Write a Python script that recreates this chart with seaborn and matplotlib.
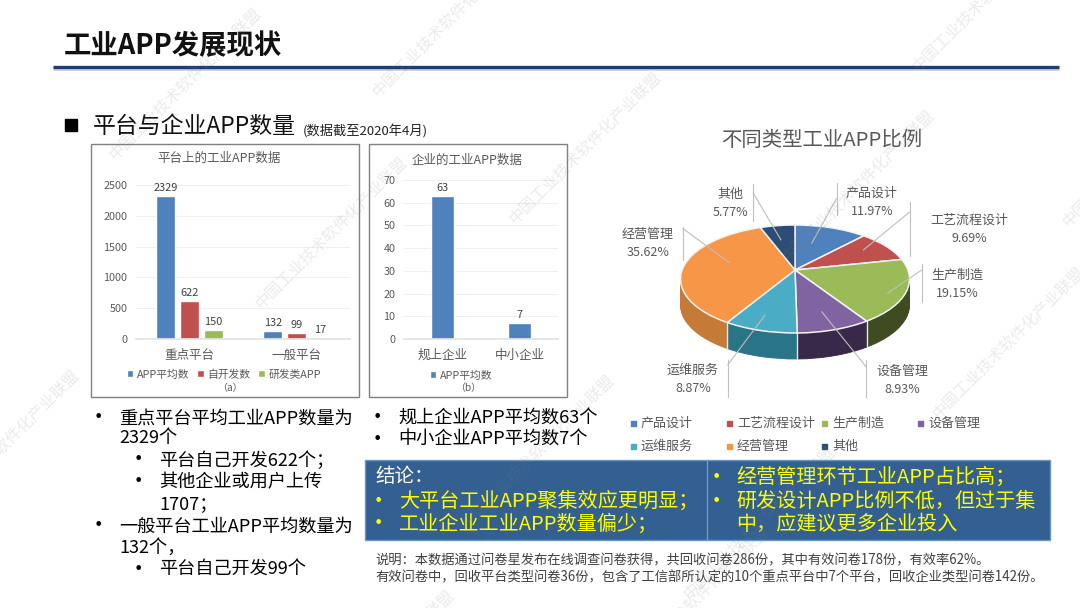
import numpy as np
import pandas as pd
import matplotlib
matplotlib.use("Agg")
import matplotlib.pyplot as plt
from matplotlib.transforms import Transform
from matplotlib.patches import Rectangle
import seaborn as sns

# ---- data ----
platform_cats = ["重点平台", "一般平台"]
platform_series = ["APP平均数", "自开发数", "研发类APP"]
platform_avg = [2329, 132]
platform_own = [622, 99]
platform_rd = [150, 17]
enterprise_cats = ["规上企业", "中小企业"]
enterprise_avg = [63, 7]
pie_labels = ["产品设计", "工艺流程设计", "生产制造", "设备管理", "运维服务", "经营管理", "其他"]
pie_values = [11.97, 9.69, 19.15, 8.93, 8.87, 35.62, 5.77]
pie_colors = ["#4F81BD", "#C0504D", "#9BBB59", "#8064A2", "#4BACC6", "#F79646", "#2C4D75"]
pie_side = ["#3B618E", "#8F3C39", "#3F4B20", "#38284A", "#2A7488", "#C57A38", "#21395A"]
bar_colors = ["#4F81BD", "#C0504D", "#9BBB59"]

# full-width punctuation
CM, SC, CL, LP, RP, ST = "\uff0c", "\uff1b", "\uff1a", "\uff08", "\uff09", "\u3002"

sns.set_theme(style="white")
plt.rcParams["font.family"] = ["Noto Sans CJK SC", "DejaVu Sans"]
W, H = 1080, 608
px = 0.72  # points per pixel at dpi 100
GREY = "#595959"

fig = plt.figure(figsize=(W / 100, H / 100), dpi=100, facecolor="white")


def axes_px(x0, y0, x1, y1, **kw):
    return fig.add_axes([x0 / W, 1 - y1 / H, (x1 - x0) / W, (y1 - y0) / H], **kw)


bg = axes_px(0, 0, W, H)
bg.set_xlim(0, W)
bg.set_ylim(H, 0)
bg.axis("off")


def T(x, y, s, size, color="black", ha="left", va="center", **kw):
    return bg.text(x, y + 1.2, s, fontsize=size * px, color=color, ha=ha, va=va, **kw)


# ---- header ----
T(64, 45, "工业APP发展现状", 27.4, weight="bold", color="#111111")
bg.plot([53, 1059], [69, 69], color="#D0D0D0", lw=2, solid_capstyle="butt")
bg.plot([53, 1059], [67, 67], color="#1F3D73", lw=2.4, solid_capstyle="butt")
bg.add_patch(Rectangle((65, 119), 12, 12, color="black"))
T(93, 125, "平台与企业APP数量", 22.9, color="#111111")
T(303, 130, "(数据截至2020年4月)", 13.2, color="#222222")

# ---- panels ----
for x0, x1 in [(91, 359), (369, 567)]:
    bg.add_patch(Rectangle((x0, 144), x1 - x0, 253, fc="white", ec="#808080", lw=1))
T(219, 157, "平台上的工业APP数据", 12.5, GREY, ha="center")
T(467, 159, "企业的工业APP数据", 12.5, GREY, ha="center")
T(230, 387, LP + "a" + RP, 10, GREY, ha="center")
T(468, 387, LP + "b" + RP, 10, GREY, ha="center")


def style_bar_axes(ax, ymax, step):
    ax.patch.set_alpha(0)
    ax.set_ylim(0, ymax)
    ax.set_yticks(np.arange(0, ymax + 1, step))
    ax.set_xlabel("")
    ax.set_ylabel("")
    ax.yaxis.grid(True, color="#EFEFEF", lw=0.8)
    ax.set_axisbelow(True)
    for s in ["top", "left", "right"]:
        ax.spines[s].set_visible(False)
    ax.spines["bottom"].set_color("#E3E3E3")
    ax.tick_params(axis="y", length=0, labelsize=10.8 * px, labelcolor=GREY, pad=6.2)
    ax.tick_params(axis="x", length=0, labelsize=12.5 * px, labelcolor=GREY, pad=7)
    for c in ax.containers:
        ax.bar_label(c, padding=2, fontsize=11 * px, color="#404040")


df_a = pd.DataFrame({
    "cat": platform_cats * 3,
    "series": np.repeat(platform_series, 2),
    "val": platform_avg + platform_own + platform_rd,
})
ax_a = axes_px(136, 185, 350, 339)
sns.barplot(data=df_a, x="cat", y="val", hue="series", palette=bar_colors,
            width=0.664, gap=0.2, saturation=1, ax=ax_a)
style_bar_axes(ax_a, 2500, 500)
ax_a.legend(ncol=3, loc="center", bbox_to_anchor=(224 / W, 1 - 374.5 / H),
            bbox_transform=fig.transFigure, frameon=False, fontsize=10.8 * px,
            labelcolor=GREY, handlelength=0.62, handleheight=0.62,
            handletextpad=0.35, columnspacing=0.7, borderpad=0)

df_b = pd.DataFrame({"cat": enterprise_cats, "val": enterprise_avg})
ax_b = axes_px(404, 180, 558, 339)
sns.barplot(data=df_b, x="cat", y="val", color=bar_colors[0], width=0.31,
            saturation=1, ax=ax_b, label="APP平均数")
style_bar_axes(ax_b, 70, 10)
ax_b.legend(loc="center", bbox_to_anchor=(461 / W, 1 - 375.5 / H),
            bbox_transform=fig.transFigure, frameon=False, fontsize=10.8 * px,
            labelcolor=GREY, handlelength=0.62, handleheight=0.62,
            handletextpad=0.35, borderpad=0)

# ---- bullets ----
left_lines = [
    (98, 120, 417, "重点平台平均工业APP数量为", True),
    (0, 120, 437, "2329个", False),
    (138, 160, 459, "平台自己开发622个" + SC, True),
    (138, 160, 481, "其他企业或用户上传", True),
    (0, 160, 503, "1707" + SC, False),
    (98, 120, 525, "一般平台工业APP平均数量为", True),
    (0, 120, 547, "132个" + CM, False),
    (138, 160, 568, "平台自己开发99个", True),
    (377, 399, 417, "规上企业APP平均数63个", True),
    (377, 399, 438, "中小企业APP平均数7个", True),
]
for bx, tx, y, s, has_bullet in left_lines:
    if has_bullet:
        bg.text(bx, y + 1, "•", fontsize=16 * px, color="black", ha="center", va="center",
                family="DejaVu Sans")
    T(tx - 0.8, y, s, 18.2)

# ---- conclusion box ----
bg.add_patch(Rectangle((365, 460), 685, 80, fc="#335F91", ec="#6F97C4", lw=1))
bg.plot([707, 707], [460, 540], color="#6F97C4", lw=1)
T(375, 475, "结论" + CL, 19.5, "white")
YEL = "#FFFF00"
for bx, tx, y, s in [
    (378, 399, 500, "大平台工业APP聚集效应更明显" + SC),
    (378, 399, 523, "工业企业工业APP数量偏少" + SC),
    (716, 736, 476, "经营管理环节工业APP占比高" + SC),
    (716, 736, 500, "研发设计APP比例不低" + CM + "但过于集"),
]:
    bg.text(bx, y + 1, "•", fontsize=16 * px, color=YEL, ha="center", va="center",
            family="DejaVu Sans")
    T(tx, y, s, 20.1, YEL)
T(736, 523, "中" + CM + "应建议更多企业投入", 20.1, YEL)

T(375, 559, "说明" + CL + "本数据通过问卷星发布在线调查问卷获得" + CM + "共回收问卷286份" + CM
  + "其中有效问卷178份" + CM + "有效率62%" + ST, 13.3, "#404040")
T(375, 576, "有效问卷中" + CM + "回收平台类型问卷36份" + CM + "包含了工信部所认定的10个重点平台中7个平台"
  + CM + "回收企业类型问卷142份" + ST, 13.3, "#404040")


# ---- pie (perspective) ----
class Persp(Transform):
    input_dims = output_dims = 2

    def __init__(self, dy=0.0):
        super().__init__()
        self.dy = dy

    def transform_non_affine(self, v):
        v = np.asarray(v, float)
        w = 1 + v[:, 1] / 6
        return np.column_stack([795 + 112.9 * v[:, 0] / w,
                                270 + self.dy - 52.5 * v[:, 1] / w])


ax_p = axes_px(0, 0, W, H)
ax_p.patch.set_alpha(0)
DEPTH = 26
for d in range(DEPTH, 0, -1):
    wedges, _ = ax_p.pie(pie_values, colors=pie_side, startangle=90, counterclock=False,
                         wedgeprops={"lw": 0.6, "zorder": 1})
    for w_, c in zip(wedges, pie_side):
        w_.set_edgecolor(c)
        w_.set_transform(Persp(d) + ax_p.transData)
wedges, _ = ax_p.pie(pie_values, colors=pie_colors, startangle=90, counterclock=False,
                     wedgeprops={"lw": 1.1, "edgecolor": "#F4F4F4", "zorder": 3})
for w_ in wedges:
    w_.set_transform(Persp(0) + ax_p.transData)
ax_p.set_aspect("auto")
ax_p.set_xlim(0, W)
ax_p.set_ylim(H, 0)
ax_p.axis("off")

for th in np.deg2rad(90 - 3.6 * np.cumsum(pie_values)):
    if np.sin(th) < 0:
        p = Persp(0).transform(np.array([[np.cos(th), np.sin(th)]]))[0]
        ax_p.plot([p[0], p[0]], [p[1], p[1] + DEPTH], color="#E8E8E8", lw=1, zorder=2)

pie_label_pos = [(872, 192), (969, 219), (957, 274), (902, 370), (693, 369), (648, 233), (730, 193)]
for (x, y), lab, val in zip(pie_label_pos, pie_labels, pie_values):
    T(x, y, lab, 13, GREY, ha="center")
    T(x, y + 18, f"{val:.2f}%", 12.5, GREY, ha="center")

leaders = [
    ((605, 400), (680, 265), (680, 220, 315)),
    ((760, 420), (900, 305), (900, 275, 437)),
    ((832, 550), (935, 480), (935, 462, 575)),
    ((635, 605), (768, 770), (768, 750, 862)),
    ((465, 615), (353, 765), (353, 750, 862)),
    ((358, 458), (218, 355), (218, 352, 450)),
    ((513, 390), (430, 250), (430, 222, 332)),
]
for a, b, (vx, v0, v1) in leaders:
    pts = np.array([a, b]) / 3 + [610, 110]
    ax_p.plot(pts[:, 0], pts[:, 1], color="#BFBFBF", lw=0.8, zorder=5)
    ax_p.plot([vx / 3 + 610] * 2, [v0 / 3 + 110, v1 / 3 + 110], color="#BFBFBF", lw=0.8, zorder=5)

T(822, 139.5, "不同类型工业APP比例", 20.4, GREY, ha="center")
legend_pos = [(633, 422), (729, 422), (824, 422), (920, 422), (633, 445), (729, 445), (824, 445)]
for (x, y), lab, c in zip(legend_pos, pie_labels, pie_colors):
    bg.add_patch(Rectangle((x - 2.5, y - 1.5), 5, 5, color=c))
    T(x + 8, y, lab, 13, GREY)

# ---- watermark ----
wm = axes_px(0, 0, W, H)
wm.set_zorder(20)
wm.patch.set_alpha(0)
wm.set_xlim(0, W)
wm.set_ylim(H, 0)
wm.axis("off")
wm_starts = [(112, 158), (258, 307), (375, 95), (512, 222), (785, 260), (915, 70), (1065, 225),
             (935, 417), (465, 525), (686, 597), (620, 676), (305, 740), (-70, 520)]
for x, y in wm_starts:
    wm.text(x, y, "中国工业技术软件化产业联盟", fontsize=16 * px, color="#808080", alpha=0.16,
            rotation=45, rotation_mode="anchor", ha="left", va="center", clip_on=True)

fig.savefig("out.png", dpi=100)
